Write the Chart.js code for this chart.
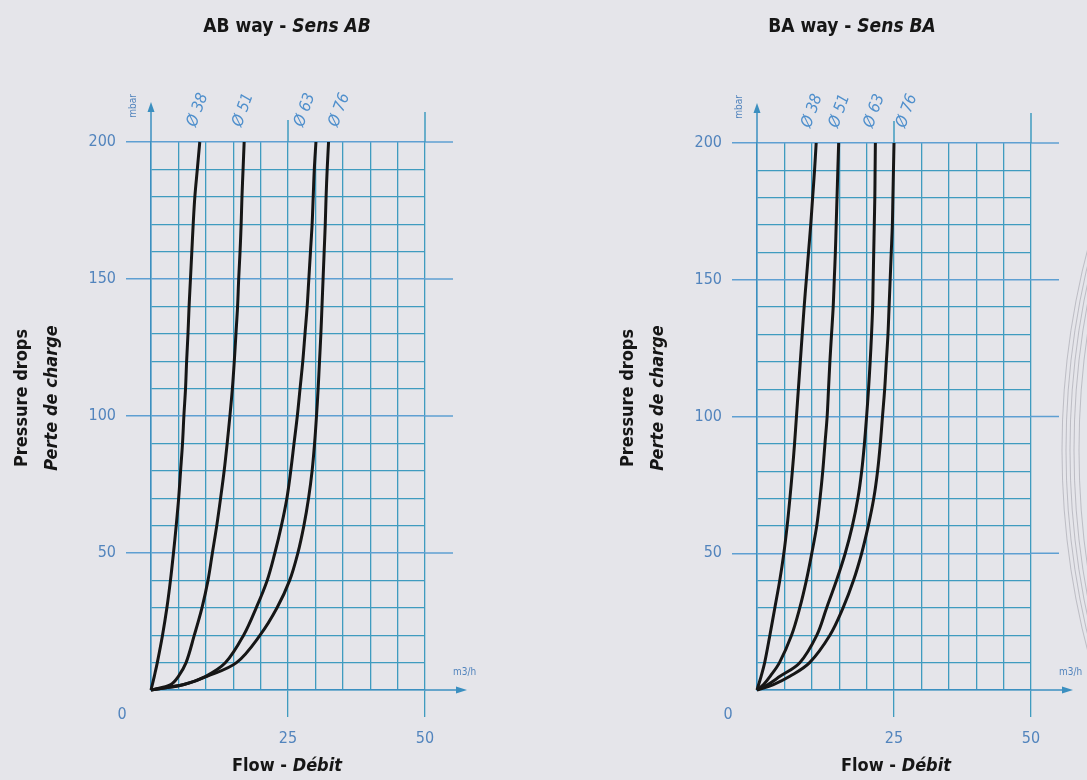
<!DOCTYPE html>
<html><head><meta charset="utf-8">
<script src="https://cdn.jsdelivr.net/npm/chart.js@4/dist/chart.umd.min.js"></script>
<style>
html,body{margin:0;padding:0;background:#e5e5ea;width:1087px;height:780px;overflow:hidden}
.wrap{position:absolute;top:0}
canvas{display:block}
</style></head><body>
<div class="wrap" style="left:0"><canvas id="ab" width="543" height="780"></canvas></div>
<div class="wrap" style="left:543px"><canvas id="ba" width="544" height="780"></canvas></div>
<script>
// ---------- data ----------
const pressure = [0, 2, 5, 10, 20, 30, 40, 50, 60, 70, 80, 90, 100, 110, 120, 130, 140, 150, 160, 170, 180, 190, 200]; // mbar
const seriesNames = ['Ø 38', 'Ø 51', 'Ø 63', 'Ø 76'];
// AB way (m3/h)
const abFlow38 = [0, 0.25, 0.6, 1.15, 2.1, 2.9, 3.55, 4.1, 4.6, 5.05, 5.4, 5.75, 6.0, 6.3, 6.5, 6.75, 6.95, 7.2, 7.45, 7.7, 8.0, 8.45, 8.9];
const abFlow51 = [0, 3.6, 5.0, 6.4, 7.9, 9.3, 10.4, 11.2, 12.0, 12.7, 13.35, 13.9, 14.4, 14.85, 15.2, 15.5, 15.8, 16.0, 16.25, 16.45, 16.6, 16.8, 17.0];
const abFlow63 = [0, 6.0, 10.0, 13.6, 16.9, 19.2, 21.2, 22.6, 23.8, 24.8, 25.5, 26.1, 26.7, 27.2, 27.7, 28.1, 28.5, 28.8, 29.1, 29.4, 29.6, 29.8, 30.1];
const abFlow76 = [0, 6.0, 10.2, 15.6, 19.9, 23.0, 25.3, 26.8, 27.9, 28.75, 29.4, 29.85, 30.2, 30.5, 30.75, 31.0, 31.2, 31.4, 31.6, 31.8, 31.95, 32.15, 32.4];
// BA way (m3/h)
const baFlow38 = [0, 0.3, 0.75, 1.4, 2.35, 3.25, 4.15, 4.9, 5.5, 6.0, 6.45, 6.85, 7.2, 7.55, 7.9, 8.25, 8.6, 9.0, 9.4, 9.8, 10.15, 10.5, 10.8];
const baFlow51 = [0, 1.2, 2.4, 4.1, 6.3, 7.8, 9.0, 10.0, 10.9, 11.5, 12.0, 12.4, 12.8, 13.05, 13.3, 13.6, 13.9, 14.1, 14.3, 14.45, 14.6, 14.75, 14.9];
const baFlow63 = [0, 2.0, 4.2, 7.8, 10.9, 12.7, 14.5, 16.1, 17.4, 18.4, 19.1, 19.6, 20.0, 20.35, 20.65, 20.9, 21.1, 21.2, 21.3, 21.4, 21.5, 21.55, 21.6];
const baFlow76 = [0, 3.0, 6.0, 9.6, 13.3, 15.7, 17.6, 19.1, 20.3, 21.3, 22.0, 22.5, 22.9, 23.3, 23.6, 23.9, 24.1, 24.3, 24.5, 24.7, 24.8, 24.9, 25.0];
// axes
const xMin = 0, xMax = 50, xStep = 5;
const yMin = 0, yMax = 200, yStep = 10;
const xTickLabels = [25, 50];
const yTickLabels = [50, 100, 150, 200];
const originLabel = '0';
const xUnit = 'm3/h';
const yUnit = 'mbar';

// ---------- style ----------
const FONT = "'Liberation Sans Narrow','DejaVu Sans Condensed','Roboto',sans-serif";
const GRID = '#3f9bbf';
const MAJOR = '#5e9fd2';
const BLUE_TXT = '#5284bd';
const INK = '#161616';

function line(ctx, x1, y1, x2, y2) { ctx.beginPath(); ctx.moveTo(x1, y1); ctx.lineTo(x2, y2); ctx.stroke(); }

const decorPlugin = {
  id: 'decor',
  beforeDatasetsDraw(chart, args, o) {
    const { ctx, chartArea: a, scales: { x, y } } = chart;
    ctx.save();
    ctx.strokeStyle = MAJOR; ctx.lineWidth = 1.5;
    yTickLabels.forEach(v => { const py = y.getPixelForValue(v); line(ctx, a.right, py, a.right + 28, py); });
    ctx.strokeStyle = GRID;
    xTickLabels.forEach(v => { const px = x.getPixelForValue(v); line(ctx, px, a.top, px, a.top - (v === xMax ? 30 : 22)); });
    const x0 = x.getPixelForValue(0), y0 = y.getPixelForValue(0);
    const tipY = y.getPixelForValue(yMax) - 40;
    ctx.strokeStyle = '#3b8fc0'; ctx.fillStyle = '#3b8fc0'; ctx.lineWidth = 1.5;
    line(ctx, x0, a.top, x0, tipY + 6);
    ctx.beginPath(); ctx.moveTo(x0, tipY); ctx.lineTo(x0 - 3.5, tipY + 10); ctx.lineTo(x0 + 3.5, tipY + 10); ctx.closePath(); ctx.fill();
    const tipX = x.getPixelForValue(xMax) + 42;
    line(ctx, a.right, y0, tipX - 6, y0);
    ctx.beginPath(); ctx.moveTo(tipX, y0); ctx.lineTo(tipX - 11, y0 - 3.5); ctx.lineTo(tipX - 11, y0 + 3.5); ctx.closePath(); ctx.fill();
    ctx.restore();
  },
  afterDraw(chart, args, o) {
    const { ctx, chartArea: a, scales: { x, y } } = chart;
    const cx = (a.left + a.right) / 2;
    ctx.save();
    const drawMixed = (parts, centerX, cy, size) => {
      let w = 0;
      parts.forEach(p => { ctx.font = `${p.italic ? 'italic ' : ''}bold ${size}px ${FONT}`; p.w = ctx.measureText(p.t).width; w += p.w; });
      let sx = centerX - w / 2;
      ctx.textBaseline = 'middle'; ctx.textAlign = 'left'; ctx.fillStyle = INK;
      parts.forEach(p => { ctx.font = `${p.italic ? 'italic ' : ''}bold ${size}px ${FONT}`; ctx.fillText(p.t, sx, cy); sx += p.w; });
    };
    drawMixed(o.title, cx + o.titleDx, 27, 19);
    drawMixed(o.xTitle, cx + o.xTitleDx, 766, 18);
    ctx.save();
    ctx.translate(o.yTitleX, o.yTitleY);
    ctx.rotate(-Math.PI / 2);
    ctx.textAlign = 'center'; ctx.textBaseline = 'middle'; ctx.fillStyle = INK;
    ctx.font = `bold 18px ${FONT}`; ctx.fillText(o.yTitle[0], 0, 0);
    ctx.font = `italic bold 18px ${FONT}`; ctx.fillText(o.yTitle[1], 0, o.yTitleGap);
    ctx.restore();
    const x0 = x.getPixelForValue(0), y0 = y.getPixelForValue(0);
    ctx.fillStyle = BLUE_TXT; ctx.textAlign = 'center'; ctx.textBaseline = 'middle';
    ctx.font = `16px ${FONT}`;
    ctx.fillText(originLabel, x0 - 29, y0 + 25);
    ctx.font = `10px ${FONT}`; ctx.textAlign = 'left';
    ctx.fillText(xUnit, x.getPixelForValue(xMax) + 28, y0 - 18);
    ctx.save();
    ctx.translate(x0 - 18, y.getPixelForValue(yMax) - 36);
    ctx.rotate(-Math.PI / 2); ctx.textAlign = 'center';
    ctx.fillText(yUnit, 0, 0);
    ctx.restore();
    ctx.font = `italic 16px ${FONT}`; ctx.fillStyle = '#4f8fcc';
    chart.data.datasets.forEach((ds, i) => {
      const last = ds.data[ds.data.length - 1];
      const px = x.getPixelForValue(last.x) + o.labelDx[i];
      const py = y.getPixelForValue(last.y) - 32;
      ctx.save(); ctx.translate(px, py); ctx.rotate(-70 * Math.PI / 180);
      ctx.textAlign = 'center'; ctx.textBaseline = 'middle';
      ctx.fillText(ds.label, 0, 0);
      ctx.restore();
    });
    if (o.ring) {
      ctx.strokeStyle = 'rgba(150,150,160,0.5)'; ctx.lineWidth = 1;
      [0, 4, 8, 12, 17].forEach(d => {
        const R = 800, cxr = chart.width + R - 25 + d;
        ctx.beginPath(); ctx.arc(cxr, 450, R, Math.PI - 0.3, Math.PI + 0.3); ctx.stroke();
      });
    }
    ctx.restore();
  }
};

function makeChart(id, flows, o) {
  const datasets = flows.map((f, i) => ({
    label: seriesNames[i],
    data: pressure.map((p, k) => ({ x: f[k], y: p })),
    borderColor: INK, borderWidth: 3, pointRadius: 0, showLine: true,
    tension: 0.35, clip: false, fill: false
  }));
  return new Chart(document.getElementById(id), {
    type: 'scatter',
    data: { datasets },
    plugins: [decorPlugin],
    options: {
      responsive: false, animation: false, devicePixelRatio: 1,
      layout: { padding: { top: o.top, right: o.right, left: 0, bottom: 0 } },
      plugins: { legend: { display: false }, tooltip: { enabled: false }, decor: o },
      scales: {
        x: {
          type: 'linear', min: xMin, max: xMax,
          afterFit: s => { s.height = 90; },
          afterBuildTicks: s => { s.ticks = []; for (let v = xMin; v <= xMax; v += xStep) s.ticks.push({ value: v }); },
          ticks: { autoSkip: false, maxRotation: 0, padding: 12, color: BLUE_TXT, font: { family: FONT, size: 16 },
            callback: v => xTickLabels.includes(v) ? String(v) : '' },
          grid: { color: GRID, lineWidth: 1.3, tickLength: 27,
            tickColor: c => (c.tick && xTickLabels.includes(c.tick.value)) ? GRID : 'rgba(0,0,0,0)', tickWidth: 1.3 },
          border: { display: true, color: '#3b8fc0', width: 1.5 }
        },
        y: {
          type: 'linear', min: yMin, max: yMax,
          afterFit: s => { s.width = o.left; },
          afterBuildTicks: s => { s.ticks = []; for (let v = yMin; v <= yMax; v += yStep) s.ticks.push({ value: v }); },
          ticks: { autoSkip: false, padding: 10, color: BLUE_TXT, font: { family: FONT, size: 16 },
            callback: v => yTickLabels.includes(v) ? String(v) : '' },
          grid: { color: c => (c.tick && yTickLabels.includes(c.tick.value)) ? MAJOR : GRID,
            lineWidth: c => (c.tick && yTickLabels.includes(c.tick.value)) ? 1.5 : 1.3, tickLength: 25,
            tickColor: c => (c.tick && yTickLabels.includes(c.tick.value)) ? MAJOR : 'rgba(0,0,0,0)', tickWidth: 1.5 },
          border: { display: true, color: '#3b8fc0', width: 1.5 }
        }
      }
    }
  });
}

makeChart('ab', [abFlow38, abFlow51, abFlow63, abFlow76], {
  top: 142, right: 118, left: 151,
  title: [{ t: 'AB way - ' }, { t: 'Sens AB', italic: true }], titleDx: -1,
  xTitle: [{ t: 'Flow - ' }, { t: 'Débit', italic: true }], xTitleDx: -1,
  yTitle: ['Pressure drops', 'Perte de charge'], yTitleX: 22, yTitleY: 398, yTitleGap: 30,
  labelDx: [-2, -1, -11, 11], ring: false
});
makeChart('ba', [baFlow38, baFlow51, baFlow63, baFlow76], {
  top: 143, right: 56, left: 214,
  title: [{ t: 'BA way - ' }, { t: 'Sens BA', italic: true }], titleDx: -42,
  xTitle: [{ t: 'Flow - ' }, { t: 'Débit', italic: true }], xTitleDx: 2,
  yTitle: ['Pressure drops', 'Perte de charge'], yTitleX: 85, yTitleY: 398, yTitleGap: 30,
  labelDx: [-4, 1, -1, 13], ring: true
});
</script>
</body></html>
